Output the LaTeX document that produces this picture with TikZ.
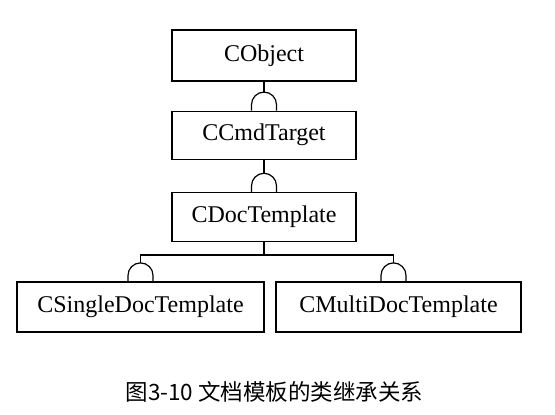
\documentclass[tikz,border=0pt]{standalone}
\usepackage{fontspec}
\setmainfont{Liberation Serif}
\newfontfamily\cjkfont{Noto Sans CJK SC}
\usetikzlibrary{positioning}
\tikzset{
clsbox/.style={rectangle,draw=black,line width=1.2pt,minimum width=184pt,
  minimum height=49pt,inner sep=0pt,font=\fontsize{24}{28}\selectfont},
clsline/.style={line width=1.2pt},
capfont/.style={font=\cjkfont\fontsize{22.5}{26}\selectfont}
}
% half-circle cap sitting on a subclass box
\newcommand{\inhcap}[2][0pt]{%
  \draw[clsline] ([xshift=#1-12.5pt]#2.north) -- ++(0,6pt)
    arc[start angle=180,end angle=0,radius=12.5pt] -- ++(0,-6pt);}

\begin{document}
\begin{tikzpicture}[x=1pt,y=1pt]
\useasboundingbox (0,0) rectangle (555,-415);
\node[clsbox,minimum height=51pt] (obj) at (264,-55.5) {CObject};
\node[clsbox,minimum height=48pt,below=29pt of obj] (cmd) {CCmdTarget};
\node[clsbox,below=32pt of cmd] (doc) {CDocTemplate};
\node[clsbox,minimum width=247pt,minimum height=50pt] (single) at (140.5,-307) {CSingleDocTemplate};
\node[clsbox,minimum width=245pt,minimum height=50pt] (multi) at (398.5,-307) {CMultiDocTemplate};
\node[capfont] (caption) at (274.5,-392) {图3-10 文档模板的类继承关系};
% inheritance lines
\draw[clsline] (obj.south) -- ([yshift=18.5pt]cmd.north);
\inhcap{cmd}
\draw[clsline] (cmd.south) -- ([yshift=18.5pt]doc.north);
\inhcap{doc}
\draw[clsline] (doc.south) -- ([yshift=-13pt]doc.south);
\draw[clsline] ([yshift=18.5pt]single.north) |- ([yshift=-13pt]doc.south)
  -| ([xshift=-5pt,yshift=18.5pt]multi.north);
\inhcap{single}
\inhcap[-5pt]{multi}
\end{tikzpicture}
\end{document}
